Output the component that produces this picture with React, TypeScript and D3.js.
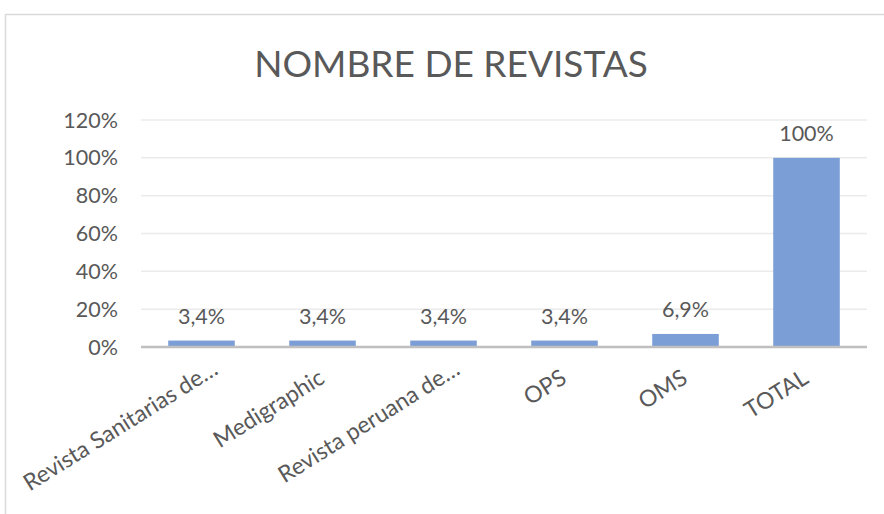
import React from "react";
import * as d3 from "d3";

const categories = [
  "Revista Sanitarias de…",
  "Medigraphic",
  "Revista peruana de…",
  "OPS",
  "OMS",
  "TOTAL",
];
const values = [0.034, 0.034, 0.034, 0.034, 0.069, 1.0];
const valueLabels = ["3,4%", "3,4%", "3,4%", "3,4%", "6,9%", "100%"];
const yTicks = [0, 0.2, 0.4, 0.6, 0.8, 1.0, 1.2];
const title = "NOMBRE DE REVISTAS";

const W = 884;
const H = 514;
const FONT = "Lato, 'Open Sans', sans-serif";
const TEXT = "#595959";

export default function App() {
  const x = d3
    .scaleBand<string>()
    .domain(categories)
    .range([141, 867])
    .paddingInner(0.45)
    .paddingOuter(0.225);
  const y = d3.scaleLinear().domain([0, 1.2]).range([347, 120]);
  const fmt = (v: number) => `${Math.round(v * 100)}%`;

  return (
    <svg
      width={W}
      height={H}
      style={{ position: "fixed", left: 0, top: 0, background: "#fff" }}
      fontFamily={FONT}
    >
      <rect x={5.5} y={14.5} width={900} height={520} fill="#fff" stroke="#d9d9d9" strokeWidth={1.5} />
      <text x={451} y={77} textAnchor="middle" fontSize={37} fill={TEXT}>
        {title}
      </text>
      {yTicks.map((t) => (
        <g key={t}>
          {t > 0 && (
            <line x1={141} x2={867} y1={y(t)} y2={y(t)} stroke="#ebebeb" strokeWidth={1.5} />
          )}
          <text x={118} y={y(t)} dy="0.35em" textAnchor="end" fontSize={21.5} fill={TEXT}>
            {fmt(t)}
          </text>
        </g>
      ))}
      {categories.map((c, i) => {
        const cx = (x(c) as number) + x.bandwidth() / 2;
        const truncated = c.endsWith("…");
        return (
          <g key={c}>
            <rect
              x={x(c)}
              y={y(values[i])}
              width={x.bandwidth()}
              height={y(0) - y(values[i])}
              fill="#7b9ed6"
            />
            <text
              x={cx}
              y={y(values[i]) - 17}
              textAnchor="middle"
              fontSize={21.5}
              fill={TEXT}
            >
              {valueLabels[i]}
            </text>
            <text
              transform={`translate(${cx + 3.5},${382}) rotate(-32)`}
              textAnchor="end"
              dx={truncated ? 17 : 0}
              fontSize={23}
              fill={TEXT}
            >
              {c}
            </text>
          </g>
        );
      })}
      <line x1={141} x2={867} y1={y(0)} y2={y(0)} stroke="#bfbfbf" strokeWidth={2.5} />
    </svg>
  );
}
